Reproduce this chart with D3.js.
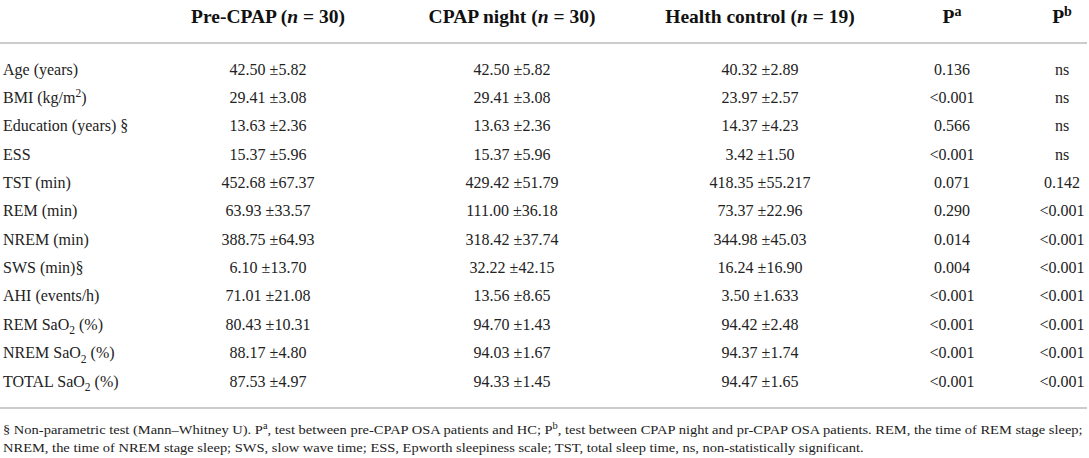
<!DOCTYPE html>
<html>
<head>
<meta charset="utf-8">
<script src="https://cdn.jsdelivr.net/npm/d3@7"></script>
<style>
  html, body { margin: 0; padding: 0; background: #fff; }
  svg { display: block; }
</style>
</head>
<body>
<div id="chart"></div>
<script>
// ---------- data ----------
const rowLabels = [
  "Age (years)", "BMI (kg/m^{2})", "Education (years) §", "ESS", "TST (min)",
  "REM (min)", "NREM (min)", "SWS (min)§", "AHI (events/h)",
  "REM SaO_{2} (%)", "NREM SaO_{2} (%)", "TOTAL SaO_{2} (%)"
];
const preMean  = ["42.50","29.41","13.63","15.37","452.68","63.93","388.75","6.10","71.01","80.43","88.17","87.53"];
const preSD    = ["5.82","3.08","2.36","5.96","67.37","33.57","64.93","13.70","21.08","10.31","4.80","4.97"];
const cpapMean = ["42.50","29.41","13.63","15.37","429.42","111.00","318.42","32.22","13.56","94.70","94.03","94.33"];
const cpapSD   = ["5.82","3.08","2.36","5.96","51.79","36.18","37.74","42.15","8.65","1.43","1.67","1.45"];
const hcMean   = ["40.32","23.97","14.37","3.42","418.35","73.37","344.98","16.24","3.50","94.42","94.37","94.47"];
const hcSD     = ["2.89","2.57","4.23","1.50","55.217","22.96","45.03","16.90","1.633","2.48","1.74","1.65"];
const pA       = ["0.136","<0.001","0.566","<0.001","0.071","0.290","0.014","0.004","<0.001","<0.001","<0.001","<0.001"];
const pB       = ["ns","ns","ns","ns","0.142","<0.001","<0.001","<0.001","<0.001","<0.001","<0.001","<0.001"];
const headers  = ["Pre-CPAP (_{n} = 30)", "CPAP night (_{n} = 30)", "Health control (_{n} = 19)", "P^{a}", "P^{b}"];
const footnotes = [
  "§ Non-parametric test (Mann–Whitney U). P^{a}, test between pre-CPAP OSA patients and HC; P^{b}, test between CPAP night and pr-CPAP OSA patients. REM, the time of REM stage sleep;",
  "NREM, the time of NREM stage sleep; SWS, slow wave time; ESS, Epworth sleepiness scale; TST, total sleep time, ns, non-statistically significant."
];

// ---------- layout ----------
const W = 1089, H = 458;
const FONT = "'Liberation Serif', 'Times New Roman', serif";
const colKeys = ["pre", "cpap", "hc", "pa", "pb"];
const colX = d3.scaleOrdinal().domain(colKeys).range([268, 512, 760, 952, 1062]);
const rowY = d3.scalePoint().domain(d3.range(rowLabels.length)).range([69, 381]);

const svg = d3.select("#chart").append("svg")
  .attr("width", W).attr("height", H)
  .style("font-family", FONT);

// rich text: ^{x} superscript, _{x} subscript (or italic when italicMarker)
function richPx(sel, str, size, italicMarker) {
  const re = /(\^\{[^}]*\}|_\{[^}]*\})/g;
  const parts = str.split(re).filter(s => s.length);
  let cur = 0;
  parts.forEach(p => {
    let target = 0, text = p, fs = size, style = null;
    if (p.startsWith("^{")) { text = p.slice(2, -1); target = -0.38 * size; fs = 0.72 * size; }
    else if (p.startsWith("_{")) {
      text = p.slice(2, -1);
      if (italicMarker) { style = "italic"; }
      else { target = 0.28 * size; fs = 0.72 * size; }
    }
    const ts = sel.append("tspan").text(text).attr("font-size", fs).attr("dy", target - cur);
    if (style) ts.attr("font-style", style);
    cur = target;
  });
}

// headers
const HFS = 19.5;
const hdr = svg.append("g").attr("class", "headers");
colKeys.forEach((k, i) => {
  const t = hdr.append("text")
    .attr("x", colX(k)).attr("y", 23)
    .attr("text-anchor", "middle")
    .attr("font-weight", "bold")
    .attr("font-size", HFS)
    .attr("fill", "#111");
  richPx(t, headers[i], HFS, true);
});

// rules
[43, 408].forEach(yy => {
  svg.append("line").attr("x1", 0).attr("x2", 1087).attr("y1", yy).attr("y2", yy)
    .attr("stroke", "#cccccc").attr("stroke-width", 2);
});

// body
const BFS = 16;
const body = svg.append("g").attr("class", "body").attr("font-size", BFS).attr("fill", "#222");
rowLabels.forEach((lab, i) => {
  const y = rowY(i) + 5.5;
  const t = body.append("text").attr("x", 3).attr("y", y);
  richPx(t, lab, BFS, false);
  const cells = [
    ["pre", preMean[i] + " ±" + preSD[i]],
    ["cpap", cpapMean[i] + " ±" + cpapSD[i]],
    ["hc", hcMean[i] + " ±" + hcSD[i]],
    ["pa", pA[i]],
    ["pb", pB[i]]
  ];
  cells.forEach(([k, v]) => {
    body.append("text").attr("x", colX(k)).attr("y", y)
      .attr("text-anchor", "middle").text(v);
  });
});

// footnotes: uniform horizontal condensing so line 1 spans the table width
const FFS = 13.5;
const fn = svg.append("g").attr("font-size", FFS).attr("fill", "#222");
const fnTexts = footnotes.map((f, i) => {
  const t = fn.append("text").attr("x", 0).attr("y", 0);
  richPx(t, f, FFS, false);
  return t;
});
const len1 = fnTexts[0].node().getComputedTextLength();
const sx = 1080 / len1;
fnTexts.forEach((t, i) => {
  t.attr("transform", `translate(3,${434 + i * 18}) scale(${sx},1)`);
});
</script>
</body>
</html>
